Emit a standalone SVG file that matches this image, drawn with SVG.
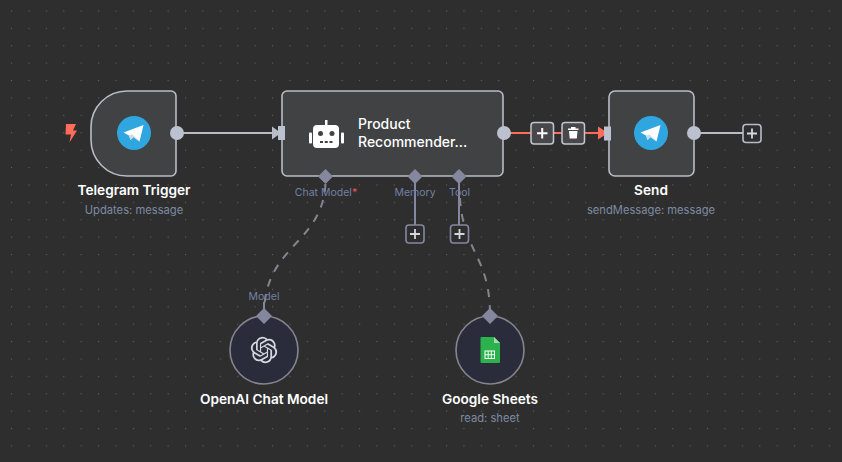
<svg xmlns="http://www.w3.org/2000/svg" width="842" height="462" viewBox="0 0 842 462">
<style>
text{font-family:Inter,"Liberation Sans",sans-serif}
.title{fill:#fff;font-size:13.65px;font-weight:600;text-anchor:middle}
.sub{fill:#7d8ba3;font-size:11.2px;text-anchor:middle}
.port{fill:#7280a6;font-size:10.5px;text-anchor:middle}
.node{fill:#414244;stroke:#b9bcc7;stroke-width:1.6}
.sub-node{fill:#2b2c3b;stroke:#85858f;stroke-width:1.6}
.dot{fill:#bcc1d0}
.dia{fill:#85879f}
.conn{fill:none;stroke:#b9bcc7;stroke-width:1.8}
.dash{fill:none;stroke:#85858f;stroke-width:2;stroke-dasharray:8 8}
.stem{stroke:#85879f;stroke-width:2}
.addbtn{fill:#2e2e2e;stroke:#b9bcc7;stroke-width:1.6}
.addsub{fill:#2e2e2e;stroke:#85879f;stroke-width:1.6}
.plus{stroke:#d5d7df;stroke-width:1.8;fill:none}
</style>
<defs>
<pattern id="grid" x="11" y="10.4" width="17.4" height="17.4" patternUnits="userSpaceOnUse"><rect width="1.100" height="1.100" fill="#5f6062"/></pattern>
<g id="tg"><circle r="17" fill="#2fa6df"/><path d="M-10.500 -0.500L9.500 -8L5.500 8.500L-0.500 4L-3.500 7L-5 2.500Z" fill="#fff"/><path d="M-5 2.500L-3.500 7L-0.500 4L5.500 8.500L-1.500 1.500Z" fill="#c9dbe8"/></g>
</defs>
<rect width="842" height="462" fill="#2e2e2e"/>
<rect width="842" height="462" fill="url(#grid)"/>

<g id="connectors">
<path class="conn" d="M177 133H272"/>
<path d="M272 126.500L281 133L272 139.500Z" fill="#b9bcc7"/>
<path d="M503 133H601" fill="none" stroke="#ff6d5a" stroke-width="2"/>
<path d="M598 126.500L608 133L598 139.500Z" fill="#ff6d5a"/>
<path class="conn" d="M694 133H744"/>
<line class="stem" x1="415" y1="176" x2="415" y2="226"/>
<line class="stem" x1="459" y1="176" x2="459" y2="226"/>
<path class="dash" d="M325.500 184C322 245 264 245 264 315"/>
<path class="dash" d="M460 198C463 252 490 256 490 315"/>
</g>

<g id="trigger-bolt"><path d="M66 124H76L73 130.500H77L69.500 142.500L71 134.500H65.500Z" fill="#ff6d5a"/></g>

<g id="telegram-trigger">
<path class="node" d="M127 91H171a5 5 0 0 1 5 5V171a5 5 0 0 1 -5 5H127a36 36 0 0 1 -36 -36V127a36 36 0 0 1 36 -36Z"/>
<use href="#tg" x="134" y="133"/>
<circle class="dot" cx="177" cy="133" r="7"/>
<text class="title" x="134" y="195">Telegram Trigger</text>
<text class="sub" x="134" y="214">Updates: message</text>
</g>

<g id="product-recommender">
<rect class="node" x="282" y="91" width="221" height="85" rx="5"/>
<rect class="dot" x="278" y="126" width="7" height="14"/>
<g id="robot" fill="#fff">
<rect x="309" y="132.500" width="3" height="11" rx="1"/>
<rect x="341" y="132.500" width="3" height="11" rx="1"/>
<path d="M325 120h2.500v5h8a4 4 0 0 1 3.500 4v15a4 4 0 0 1 -4 4h-18a4 4 0 0 1 -4 -4v-15a4 4 0 0 1 4 -4h8Z"/>
<circle cx="320.500" cy="133.500" r="2.500" fill="#414244"/>
<circle cx="332" cy="133.500" r="2.500" fill="#414244"/>
<path d="M320 142h12.500" stroke="#414244" stroke-width="2" stroke-dasharray="3 1.750"/>
</g>
<text x="358" y="129" fill="#fff" font-size="14" font-weight="500">Product</text>
<text x="358" y="147" fill="#fff" font-size="14" font-weight="500">Recommender...</text>
<circle class="dot" cx="504" cy="133" r="7"/>
<path class="dia" d="M325.500 169L333 176.500L325.500 184L318 176.500Z"/>
<path class="dia" d="M415 169L422.500 176.500L415 184L407.500 176.500Z"/>
<path class="dia" d="M459 169L466.500 176.500L459 184L451.500 176.500Z"/>
<text class="port" x="326" y="196">Chat Model<tspan fill="#f0524f">*</tspan></text>
<text class="port" x="415" y="196">Memory</text>
<text class="port" x="459.500" y="196">Tool</text>
</g>

<g id="add-memory"><rect class="addsub" x="406" y="225" width="18" height="18" rx="3"/><path class="plus" d="M410 234h10M415 229v10"/></g>
<g id="add-tool"><rect class="addsub" x="450.500" y="225" width="18" height="18" rx="3"/><path class="plus" d="M454.500 234h10M459.500 229v10"/></g>

<g id="edge-toolbar">
<rect x="531" y="122.500" width="22.500" height="21.500" rx="3" fill="#48484a" stroke="#c4c6cf" stroke-width="1.500"/>
<path d="M537 133.300h10.500M542.200 128v10.500" stroke="#fff" stroke-width="2" fill="none"/>
<rect x="562" y="122.500" width="22.500" height="21.500" rx="3" fill="#48484a" stroke="#c4c6cf" stroke-width="1.500"/>
<path d="M568 128.500h10.500v1.500h-10.500ZM571 127h4.500v1.500h-4.500ZM569 131h8.500l-.7 7.500h-7.100Z" fill="#fff"/>
</g>

<g id="send">
<rect class="node" x="609" y="91" width="85" height="85" rx="6"/>
<rect class="dot" x="604" y="126.500" width="7" height="14"/>
<use href="#tg" x="651" y="133"/>
<circle class="dot" cx="694" cy="133" r="7"/>
<text class="title" x="651" y="195">Send</text>
<text class="sub" x="651" y="214">sendMessage: message</text>
</g>

<g id="add-after-send"><rect class="addbtn" x="743" y="124.500" width="18" height="18" rx="3"/><path class="plus" d="M747 133.500h10M752 128.500v10"/></g>

<g id="openai-chat-model">
<circle class="sub-node" cx="264" cy="350" r="34"/>
<path transform="translate(250.800 336.800) scale(1.100)" fill="#d5d7df" d="M22.2819 9.8211a5.9847 5.9847 0 0 0-.5157-4.9108 6.0462 6.0462 0 0 0-6.5098-2.9A6.0651 6.0651 0 0 0 4.9807 4.1818a5.9847 5.9847 0 0 0-3.9977 2.9 6.0462 6.0462 0 0 0 .7427 7.0966 5.98 5.98 0 0 0 .511 4.9107 6.051 6.051 0 0 0 6.5146 2.9001A5.9847 5.9847 0 0 0 13.2599 24a6.0557 6.0557 0 0 0 5.7718-4.2058 5.9894 5.9894 0 0 0 3.9977-2.9001 6.0557 6.0557 0 0 0-.7475-7.0729zm-9.022 12.6081a4.4755 4.4755 0 0 1-2.8764-1.0408l.1419-.0804 4.7783-2.7582a.7948.7948 0 0 0 .3927-.6813v-6.7369l2.02 1.1686a.071.071 0 0 1 .038.052v5.5826a4.504 4.504 0 0 1-4.4945 4.4944zm-9.6607-4.1254a4.4708 4.4708 0 0 1-.5346-3.0137l.142.0852 4.783 2.7582a.7712.7712 0 0 0 .7806 0l5.8428-3.3685v2.3324a.0804.0804 0 0 1-.0332.0615L9.74 19.9502a4.4992 4.4992 0 0 1-6.1408-1.6464zM2.3408 7.8956a4.485 4.485 0 0 1 2.3655-1.9728V11.6a.7664.7664 0 0 0 .3879.6765l5.8144 3.3543-2.0201 1.1685a.0757.0757 0 0 1-.071 0l-4.8303-2.7865A4.504 4.504 0 0 1 2.3408 7.872zm16.5963 3.8558L13.1038 8.364 15.1192 7.2a.0757.0757 0 0 1 .071 0l4.8303 2.7913a4.4944 4.4944 0 0 1-.6765 8.1042v-5.6772a.79.79 0 0 0-.407-.667zm2.0107-3.0231l-.142-.0852-4.7735-2.7818a.7759.7759 0 0 0-.7854 0L9.409 9.2297V6.8974a.0662.0662 0 0 1 .0284-.0615l4.8303-2.7866a4.4992 4.4992 0 0 1 6.6802 4.66zM8.3065 12.863l-2.02-1.1638a.0804.0804 0 0 1-.038-.0567V6.0742a4.4992 4.4992 0 0 1 7.3757-3.4537l-.142.0805L8.704 5.459a.7948.7948 0 0 0-.3927.6813zm1.0976-2.3654l2.602-1.4998 2.6069 1.4998v2.9994l-2.5974 1.4997-2.6067-1.4997Z"/>
<line class="stem" x1="264" y1="302" x2="264" y2="310"/>
<path class="dia" d="M264 308L272 316L264 324L256 316Z"/>
<text class="port" x="264" y="300">Model</text>
<text class="title" x="264" y="404">OpenAI Chat Model</text>
</g>

<g id="google-sheets">
<circle class="sub-node" cx="490" cy="350" r="34"/>
<path d="M481.500 337h12.500l6 6v19a1 1 0 0 1 -1 1h-17.500a1 1 0 0 1 -1 -1v-24a1 1 0 0 1 1 -1Z" fill="#2bb24c"/>
<path d="M494 337l6 6h-6Z" fill="#a5d9b5"/>
<rect x="485" y="351" width="9.500" height="7.500" fill="none" stroke="#fff" stroke-width="1"/>
<path d="M485 354.700h9.500M488.200 351v7.500M491.300 351v7.500" stroke="#fff" stroke-width=".9" fill="none"/>
<path class="dia" d="M490 308L498 316L490 324L482 316Z"/>
<text class="title" x="490" y="404">Google Sheets</text>
<text class="sub" x="490" y="422">read: sheet</text>
</g>
</svg>
